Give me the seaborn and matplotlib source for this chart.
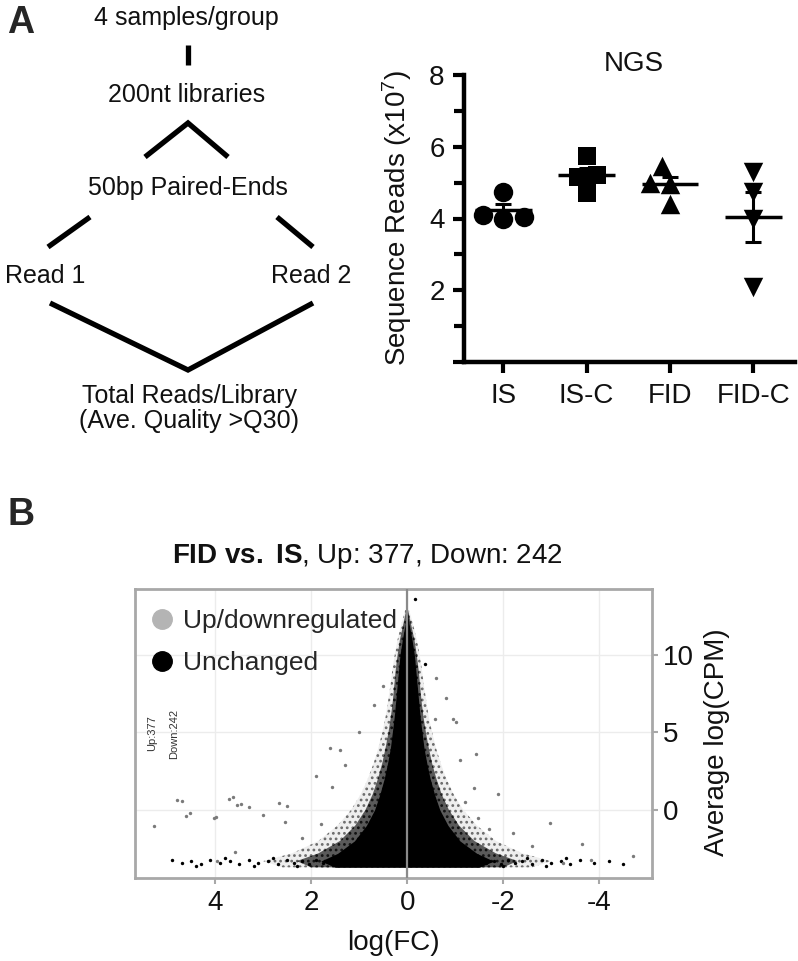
import numpy as np
import pandas as pd
import matplotlib
matplotlib.use("Agg")
import matplotlib.pyplot as plt
import seaborn as sns
from matplotlib.lines import Line2D

# ---------------- data ----------------
groups = ["IS", "IS-C", "FID", "FID-C"]
group_markers = ["o", "s", "^", "v"]
is_reads = [4.0, 4.05, 4.1, 4.75]
isc_reads = [5.75, 5.15, 5.2, 4.7]
fid_reads = [5.45, 5.0, 4.95, 4.4]
fidc_reads = [5.3, 4.75, 4.0, 2.1]
reads_ticks = [0, 2, 4, 6, 8]
reads_ticklabels = ["", "2", "4", "6", "8"]

# MA plot: envelope of the dense cloud of unchanged genes (logCPM level, half-width in logFC)
env_cpm = [12.9, 12.0, 11.0, 10.0, 9.0, 8.0, 7.0, 6.0, 5.0, 4.0, 3.0, 2.0, 1.0, 0.0, -1.0, -2.0, -2.8, -3.3, -3.7]
core_w = [0.0, 0.04, 0.10, 0.15, 0.18, 0.21, 0.24, 0.27, 0.31, 0.35, 0.41, 0.48, 0.57, 0.68, 0.85, 1.10, 1.45, 1.80, 1.50]
halo_w = [0.02, 0.08, 0.15, 0.20, 0.24, 0.27, 0.30, 0.34, 0.39, 0.45, 0.52, 0.61, 0.72, 0.87, 1.08, 1.40, 1.85, 2.30, 2.00]
outer_w = [0.04, 0.12, 0.20, 0.26, 0.31, 0.35, 0.40, 0.45, 0.52, 0.60, 0.70, 0.82, 0.97, 1.17, 1.45, 1.85, 2.40, 3.00, 2.60]

# individual genes
de_fc = [-0.96, -1.02, -0.57, -1.44, 1.6, 1.4, -1.4, -1.2, -2.98, 1.57, 3.62, 4.7, 3.46, 3.3, 2.67, 2.5,
         4.53, 3.98, 3.0, 2.55, -1.48, 4.79, 4.6, 5.27, 4.02, 3.71, 3.54, -3.65, -3.83, -4.7, -3.25, 3.96,
         3.58, 1.9, -1.9, -2.2, 2.2, -2.6, 1.8, -1.7, 1.3, -1.1, -0.8, 0.7, -0.6, 0.5, 1.0]
de_cpm = [5.9, 5.7, 5.9, 3.6, 4.0, 3.9, 1.4, 0.5, -0.85, 1.5, 0.85, 0.6, 0.4, 0.17, 0.43, 0.25,
          -0.2, -0.43, -0.3, -0.75, -0.5, 0.65, -0.39, -1.03, -0.52, 0.71, 0.32, -2.2, -3.2, -3.0, -3.4, -3.3,
          -2.7, 2.2, 1.0, -1.5, -1.8, -2.3, -0.9, -1.2, 2.9, 3.2, 7.2, 6.8, 8.5, 8.0, 5.0]
un_fc = [-0.17, -0.37, 4.9, 4.7, 4.5, 4.3, 4.1, 3.9, 3.7, 3.5, 3.3, 3.1, 2.9, 2.7, 2.5, 2.35, 2.2, 2.05,
         1.9, 1.75, 1.6, 1.45, -1.5, -1.65, -1.8, -1.95, -2.1, -2.25, -2.4, -2.6, -2.8, -3.0, -3.2, -3.4,
         -3.6, -3.9, -4.2, -4.5, 4.4, 3.8, 3.2, 2.8, 2.3, -2.0, -2.5, -2.9, -3.3]
un_cpm = [13.6, 9.4, -3.2, -3.4, -3.3, -3.5, -3.2, -3.4, -3.3, -3.5, -3.2, -3.4, -3.3, -3.5, -3.2, -3.4,
          -3.3, -3.5, -3.2, -3.4, -3.3, -3.5, -3.2, -3.4, -3.3, -3.5, -3.2, -3.4, -3.3, -3.5, -3.2, -3.4,
          -3.3, -3.5, -3.2, -3.4, -3.3, -3.5, -3.6, -3.1, -3.6, -3.1, -3.6, -3.6, -3.1, -3.6, -3.1]
fc_ticks = [4, 2, 0, -2, -4]
cpm_ticks = [0, 5, 10]

# ---------------- style ----------------
sns.set_theme(style="white")
plt.rcParams["font.family"] = ["Liberation Sans", "DejaVu Sans"]
plt.rcParams["mathtext.fontset"] = "custom"
plt.rcParams["mathtext.rm"] = "Liberation Sans"
plt.rcParams["mathtext.bf"] = "Liberation Sans:bold"
plt.rcParams["mathtext.it"] = "Liberation Sans:italic"
plt.rcParams["hatch.linewidth"] = 1.2

W, H = 798, 961
fig = plt.figure(figsize=(W / 100, H / 100), dpi=100)
fig.patch.set_facecolor("white")


def fbox(l, t, r, b):
    return [l / W, 1 - b / H, (r - l) / W, (b - t) / H]


ov = fig.add_axes([0, 0, 1, 1], zorder=0)
ov.set_xlim(0, W)
ov.set_ylim(H, 0)
ov.axis("off")

# ---------------- panel A: workflow diagram ----------------
txt = dict(ha="center", va="baseline", fontsize=18, color="#111111")
lkw = dict(color="black", lw=3.8, solid_capstyle="butt", solid_joinstyle="miter")
ov.text(186, 25, "4 samples/group", **txt)
ov.plot([188, 188], [45, 65], **lkw)
ov.text(187, 102, "200nt libraries", **txt)
ov.plot([145, 188, 228], [157, 123, 157], **lkw)
ov.text(188, 195, "50bp Paired-Ends", **txt)
ov.plot([90, 48], [217, 247], **lkw)
ov.plot([277, 313], [217, 247], **lkw)
ov.text(45, 283, "Read 1", **txt)
ov.text(311, 283, "Read 2", **txt)
ov.plot([50, 188, 313], [303, 370, 303], **lkw)
ov.text(189, 403, "Total Reads/Library", **txt)
ov.text(189, 428, "(Ave. Quality >Q30)", **txt)

ov.text(7, 33, "A", fontsize=27, fontweight="bold", ha="left", va="baseline")
ov.text(7, 525, "B", fontsize=27, fontweight="bold", ha="left", va="baseline")

# ---------------- panel A: NGS dot plot ----------------
reads = pd.DataFrame({
    "group": np.repeat(groups, 4),
    "reads": is_reads + isc_reads + fid_reads + fidc_reads,
})
ax1 = fig.add_axes(fbox(464, 75, 795, 362), zorder=2)
for g, m in zip(groups, group_markers):
    sns.swarmplot(data=reads[reads["group"] == g], x="group", y="reads", order=groups,
                  marker=m, color="black", size=14 if m != "s" else 13, ax=ax1, zorder=3)
stats = reads.groupby("group", sort=False)["reads"].agg(["mean", "std", "count"]).reindex(groups)
stats["sem"] = stats["std"] / np.sqrt(stats["count"])
for i, g in enumerate(groups):
    mu, se = stats.loc[g, "mean"], stats.loc[g, "sem"]
    ax1.hlines(mu, i - 0.34, i + 0.34, color="black", lw=2.5, zorder=4)
    ax1.errorbar(i, mu, yerr=se, color="black", lw=2.2, capsize=6, capthick=2.2, zorder=4)
ax1.set_xlim(-0.47, 3.5)
ax1.set_ylim(0, 8)
ax1.set_yticks(reads_ticks)
ax1.set_yticklabels(reads_ticklabels)
ax1.set_yticks([1, 3, 5, 7], minor=True)
ax1.set_xlabel("")
ax1.set_ylabel("")
for s in ["top", "right"]:
    ax1.spines[s].set_visible(False)
for s in ["left", "bottom"]:
    ax1.spines[s].set_linewidth(3.2)
    ax1.spines[s].set_color("black")
    ax1.spines[s].set_capstyle("projecting")
ax1.tick_params(axis="both", which="major", direction="out", length=8, width=3, color="black",
                labelsize=20, left=True, bottom=True, labelcolor="#111111")
ax1.tick_params(axis="y", which="minor", direction="out", length=7, width=3, color="black", left=True)
ax1.tick_params(axis="x", pad=7)
ax1.tick_params(axis="y", pad=6)
ax1.patch.set_alpha(0)
ov.text(397, 218, "Sequence Reads (x10$^7$)", rotation=90, ha="center", va="center", fontsize=20,
        color="#111111")
ov.text(634, 64, "NGS", ha="center", va="center", fontsize=20, color="#111111")

# ---------------- panel B: MA plot ----------------
ax2 = fig.add_axes(fbox(135, 589, 652, 878), zorder=2)
ec = np.array(env_cpm)
ax2.fill_betweenx(ec, -np.array(outer_w), np.array(outer_w), facecolor="#eeeeee", edgecolor="#6a6a6a",
                  hatch="...", lw=0, zorder=1)
ax2.fill_betweenx(ec, -np.array(halo_w), np.array(halo_w), facecolor="#5a5a5a", edgecolor="#111111",
                  hatch="...", lw=0, zorder=2)
ax2.fill_betweenx(ec, -np.array(core_w), np.array(core_w), color="black", lw=0, zorder=3)
sns.scatterplot(x=un_fc, y=un_cpm, color="black", s=6, linewidth=0, ax=ax2, zorder=4)
sns.scatterplot(x=de_fc, y=de_cpm, color="#7a7a7a", s=6, linewidth=0, ax=ax2, zorder=4)
ax2.axvline(0, color="#8a8a8a", lw=1.6, zorder=5)
ax2.set_xlim(5.67, -5.1)
ax2.set_ylim(-4.39, 14.26)
ax2.set_xticks(fc_ticks)
ax2.set_xticklabels([str(v) for v in fc_ticks])
ax2.set_yticks(cpm_ticks)
ax2.yaxis.tick_right()
ax2.grid(True, color="#ececec", lw=1, zorder=0)
ax2.set_axisbelow(True)
for s in ax2.spines.values():
    s.set_color("#a8a8a8")
    s.set_linewidth(2)
ax2.tick_params(axis="both", direction="out", length=4, width=1.5, color="#a8a8a8", labelsize=20,
                labelcolor="#111111", bottom=True, right=True, left=False)
ax2.tick_params(axis="x", pad=5)
ax2.tick_params(axis="y", pad=4)
leg_handles = [
    Line2D([], [], marker="o", color="none", markerfacecolor="#b4b4b4", markeredgecolor="#b4b4b4",
           markersize=14, label="Up/downregulated"),
    Line2D([], [], marker="o", color="none", markerfacecolor="black", markeredgecolor="black",
           markersize=14, label="Unchanged"),
]
ax2.legend(handles=leg_handles, loc="upper left", bbox_to_anchor=(-0.015, 0.985), frameon=False,
           fontsize=19, handletextpad=0.1, labelspacing=0.68, borderaxespad=0.2, handlelength=1.4)
ax2.text(0.033, 0.5, "Up:377", transform=ax2.transAxes, rotation=90, ha="center", va="center",
         fontsize=8, color="#333333")
ax2.text(0.075, 0.5, "Down:242", transform=ax2.transAxes, rotation=90, ha="center", va="center",
         fontsize=8, color="#333333")
ov.text(172, 563, r"$\mathbf{FID\ vs.\ IS}$, Up: 377, Down: 242", ha="left", va="baseline",
        fontsize=20, color="#111111")
ov.text(717, 742, "Average log(CPM)", rotation=90, ha="center", va="center", fontsize=20,
        color="#111111")
ov.text(393, 943, "log(FC)", ha="center", va="center", fontsize=20, color="#111111")

fig.savefig("out.png", dpi=100)
